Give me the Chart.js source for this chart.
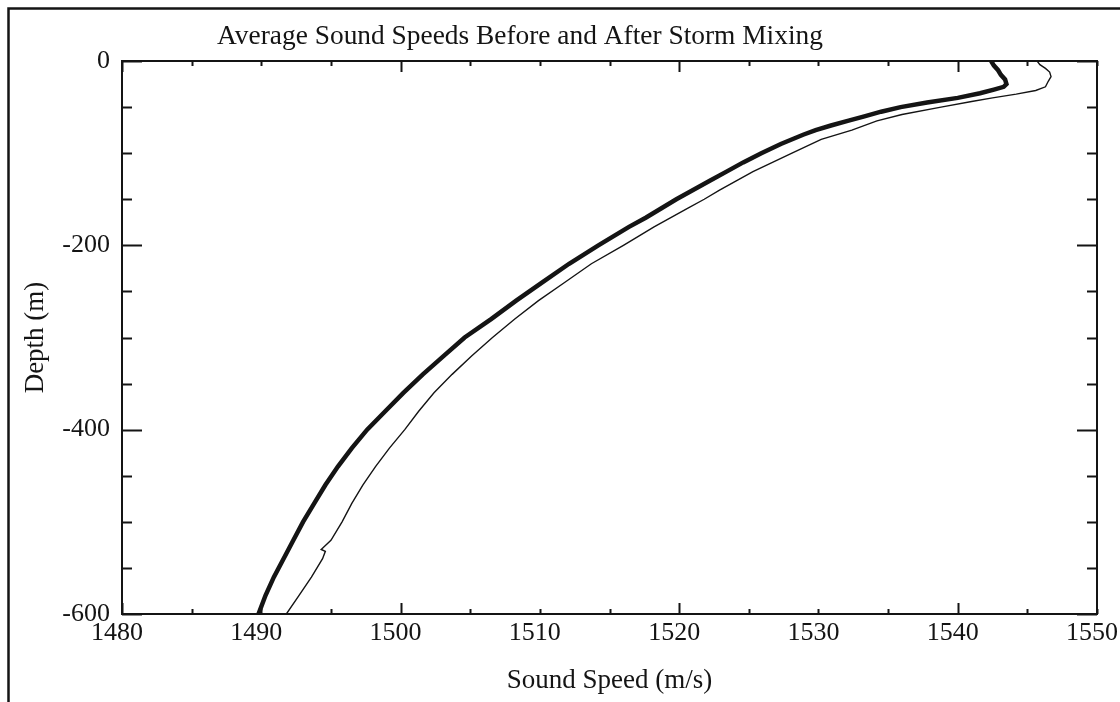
<!DOCTYPE html>
<html>
<head>
<meta charset="utf-8">
<title>Average Sound Speeds</title>
<script src="https://cdn.jsdelivr.net/npm/chart.js@4.4.1/dist/chart.umd.min.js"></script>
<style>
  html, body { margin: 0; padding: 0; background: #fff; }
  #wrap { width: 1120px; height: 702px; }
</style>
</head>
<body>
<div id="wrap"><canvas id="c" width="1120" height="702"></canvas></div>
<script>
// depth (m) and sound speed (m/s) profiles
const depthBefore = [0, -4, -8, -12, -17, -22, -28, -32, -36, -40, -44, -50, -58, -65, -75, -85, -100,
  -110, -120, -130, -140, -150, -160, -170, -180, -190, -200, -220, -240, -260, -280, -300,
  -320, -340, -360, -380, -400, -420, -440, -460, -480, -500, -520, -530, -532, -540, -560, -580, -600];
const speedBefore = [1545.7, 1545.9, 1546.3, 1546.6, 1546.7, 1546.5, 1546.3, 1545.6, 1544.2, 1542.5, 1541.0, 1538.8, 1536.0, 1534.2, 1532.4, 1530.2, 1528.1,
  1526.7, 1525.3, 1524.1, 1522.9, 1521.8, 1520.6, 1519.4, 1518.2, 1517.1, 1516.0, 1513.7, 1511.8, 1509.9, 1508.2, 1506.6,
  1505.1, 1503.7, 1502.4, 1501.3, 1500.3, 1499.2, 1498.2, 1497.3, 1496.5, 1495.8, 1495.0, 1494.3, 1494.6, 1494.4, 1493.6, 1492.7, 1491.8];

const depthAfter = [0, -5, -10, -15, -20, -25, -28, -31, -35, -40, -45, -50, -55, -60, -65, -70, -75, -80, -90, -100,
  -110, -120, -130, -140, -150, -160, -170, -180, -190, -200, -220, -240, -260, -280, -300,
  -320, -340, -360, -380, -400, -420, -440, -460, -480, -500, -520, -540, -560, -580, -600];
const speedAfter = [1542.4, 1542.6, 1542.9, 1543.1, 1543.4, 1543.5, 1543.3, 1542.6, 1541.6, 1540.0, 1537.8, 1535.9, 1534.5, 1533.3, 1532.1, 1530.9, 1529.8, 1528.9, 1527.3, 1525.9,
  1524.6, 1523.4, 1522.2, 1521.0, 1519.8, 1518.7, 1517.6, 1516.4, 1515.3, 1514.2, 1512.1, 1510.2, 1508.3, 1506.5, 1504.6,
  1503.1, 1501.6, 1500.2, 1498.9, 1497.6, 1496.5, 1495.5, 1494.6, 1493.8, 1493.0, 1492.3, 1491.6, 1490.9, 1490.3, 1489.8];

// axis ticks: labels every 10 m/s and 200 m, marks every 5 m/s and 50 m
const speedTicks = [1480, 1485, 1490, 1495, 1500, 1505, 1510, 1515, 1520, 1525, 1530, 1535, 1540, 1545, 1550];
const speedMajor = [1480, 1500, 1520, 1540];
const depthTicks = [0, -50, -100, -150, -200, -250, -300, -350, -400, -450, -500, -550, -600];
const depthMajor = [0, -200, -400, -600];

const serif = "'Liberation Serif', 'Times New Roman', serif";
const ink = '#141414';

function toPoints(xs, ys) {
  return xs.map((x, i) => ({ x: x, y: ys[i] }));
}

// outer frame, plot box and inward tick marks
const framePlugin = {
  id: 'frame',
  beforeDatasetsDraw(chart) {
    const ctx = chart.ctx;
    const a = chart.chartArea;
    const xs = chart.scales.x, ys = chart.scales.y;
    ctx.save();
    ctx.strokeStyle = ink;

    ctx.lineWidth = 2.5;
    ctx.beginPath();
    ctx.moveTo(8.5, 702);
    ctx.lineTo(8.5, 8.5);
    ctx.lineTo(1120, 8.5);
    ctx.stroke();

    ctx.lineWidth = 2;
    ctx.strokeRect(a.left, a.top, a.right - a.left, a.bottom - a.top);

    speedTicks.forEach(v => {
      const px = Math.round(xs.getPixelForValue(v)) + 0.5;
      const len = speedMajor.includes(v) ? 11 : 5;
      ctx.beginPath();
      ctx.moveTo(px, a.bottom); ctx.lineTo(px, a.bottom - len);
      ctx.moveTo(px, a.top); ctx.lineTo(px, a.top + len);
      ctx.stroke();
    });
    depthTicks.forEach(v => {
      const py = Math.round(ys.getPixelForValue(v)) + 0.5;
      const len = depthMajor.includes(v) ? 20 : 10;
      ctx.beginPath();
      ctx.moveTo(a.left, py); ctx.lineTo(a.left + len, py);
      ctx.moveTo(a.right, py); ctx.lineTo(a.right - len, py);
      ctx.stroke();
    });
    ctx.restore();
  },
  afterDraw(chart) {
    const ctx = chart.ctx;
    ctx.save();
    ctx.fillStyle = ink;
    ctx.font = '27.4px ' + serif;
    ctx.textAlign = 'center';
    ctx.textBaseline = 'alphabetic';
    ctx.fillText('Average Sound Speeds Before and After Storm Mixing', 520, 44);
    ctx.restore();
  }
};

new Chart(document.getElementById('c'), {
  type: 'scatter',
  data: {
    datasets: [
      {
        label: 'Before',
        data: toPoints(speedBefore, depthBefore),
        showLine: true,
        borderColor: ink,
        borderWidth: 1.4,
        pointRadius: 0,
        tension: 0
      },
      {
        label: 'After',
        data: toPoints(speedAfter, depthAfter),
        showLine: true,
        borderColor: ink,
        borderWidth: 4.5,
        pointRadius: 0,
        tension: 0
      }
    ]
  },
  options: {
    responsive: false,
    animation: false,
    events: [],
    layout: { padding: { top: 61, right: 23, left: 0, bottom: 0 } },
    plugins: {
      legend: { display: false },
      title: { display: false },
      tooltip: { enabled: false }
    },
    scales: {
      x: {
        type: 'linear',
        min: 1480,
        max: 1550,
        grid: { display: false, drawTicks: false },
        border: { display: false },
        ticks: {
          stepSize: 10,
          padding: 4,
          labelOffset: -5,
          color: ink,
          font: { family: serif, size: 26 },
          callback: v => String(v)
        },
        title: {
          display: true,
          text: 'Sound Speed (m/s)',
          color: ink,
          font: { family: serif, size: 27 },
          padding: { top: 0, bottom: 5 }
        },
        afterFit(scale) {
          scale.height = 88;
          scale.paddingLeft = 0;
          scale.paddingRight = 0;
        }
      },
      y: {
        type: 'linear',
        min: -600,
        max: 0,
        grid: { display: false, drawTicks: false },
        border: { display: false },
        ticks: {
          stepSize: 200,
          padding: 12,
          color: ink,
          font: { family: serif, size: 26 },
          callback: v => String(v)
        },
        title: {
          display: true,
          text: 'Depth (m)',
          color: ink,
          font: { family: serif, size: 27 },
          padding: { top: 20, bottom: 0 }
        },
        afterFit(scale) {
          scale.width = 122;
          scale.paddingTop = 0;
          scale.paddingBottom = 0;
        }
      }
    }
  },
  plugins: [framePlugin]
});
</script>
</body>
</html>
